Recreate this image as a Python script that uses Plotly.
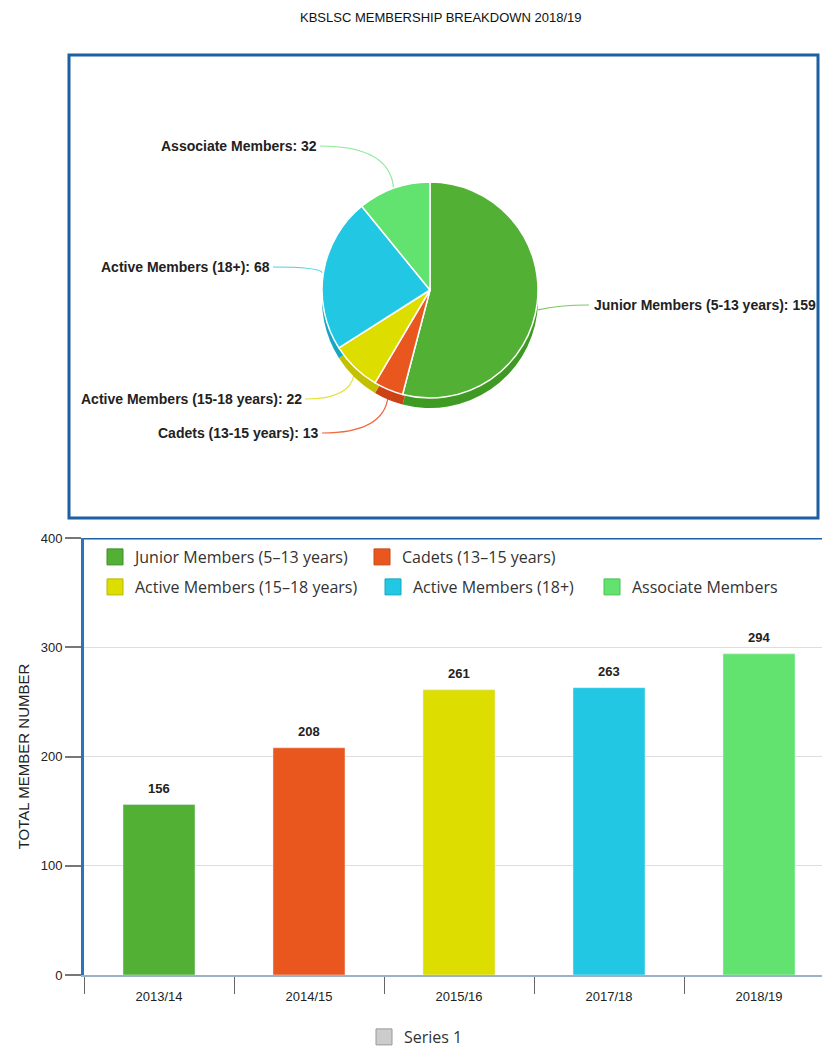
import math
import plotly.graph_objects as go

W, H = 822, 1050

# ---------------- data ----------------
title_text = "KBSLSC MEMBERSHIP BREAKDOWN 2018/19"
pie_labels = ["Junior Members (5-13 years)", "Cadets (13-15 years)",
              "Active Members (15-18 years)", "Active Members (18+)", "Associate Members"]
legend_labels = ["Junior Members (5\u201313 years)", "Cadets (13\u201315 years)",
                 "Active Members (15\u201318 years)", "Active Members (18+)", "Associate Members"]
pie_values = [159, 13, 22, 68, 32]

seasons = ["2013/14", "2014/15", "2015/16", "2017/18", "2018/19"]
totals = [156, 208, 261, 263, 294]
y_ticks = [0, 100, 200, 300, 400]
y_title = "TOTAL MEMBER NUMBER"
series_name = "Series 1"

# ---------------- styles ----------------
colors = ["#52b035", "#ea571e", "#dddd00", "#22c8e3", "#62e26e"]
dark_colors = ["#3f9a24", "#cc4214", "#c2c000", "#15a7c2", "#4cc95a"]
edge_colors = ["#3e8e28", "#c44a18", "#b8b800", "#1aa6bd", "#4fc05a"]
line_colors = ["#7cc863", "#ef6a3c", "#e4e43a", "#4fd0e6", "#8fe897"]
LBL_FONT = dict(family="Liberation Sans, Arial", size=14, color="#222222")
LEG_FONT = dict(family="Open Sans, sans-serif", size=16, color="#333333")


def px(x):
    return x / W


def py(y):
    return 1 - y / H


fig = go.Figure()

# ---------------- pie (top) ----------------
cx, cy, R, depth = 430, 290, 108, 10
fig.add_trace(go.Pie(
    labels=pie_labels, values=pie_values, sort=False, direction="clockwise", rotation=0,
    marker=dict(colors=dark_colors, line=dict(color="white", width=0)),
    textinfo="none", hoverinfo="skip", showlegend=False,
    domain=dict(x=[px(cx - R), px(cx + R)], y=[py(cy + depth + R), py(cy + depth - R)]),
))
fig.add_trace(go.Pie(
    labels=pie_labels, values=pie_values, sort=False, direction="clockwise", rotation=0,
    marker=dict(colors=colors, line=dict(color="white", width=1.5)),
    textinfo="none", showlegend=False,
    domain=dict(x=[px(cx - R), px(cx + R)], y=[py(cy + R), py(cy - R)]),
))

# label anchor positions (layout only): (x, y, side)
label_pos = [(589, 305, "left"), (322, 433, "right"), (305, 399, "right"),
             (273, 267, "right"), (320, 146, "right")]
total = sum(pie_values)
cum = 0
shapes = []
annotations = []
for i, v in enumerate(pie_values):
    mid = (cum + v / 2) / total * 2 * math.pi
    cum += v
    ex = cx + (R + 1) * math.sin(mid)
    ey = cy - (R + 1) * math.cos(mid) + (depth * 0.6 if math.cos(mid) < 0 else 0)
    lx, ly, side = label_pos[i]
    path = f"M {px(ex)},{py(ey)} Q {px(ex - 4 if side == 'right' else ex + 20)},{py(ly)} {px(lx)},{py(ly)}"
    shapes.append(dict(type="path", xref="paper", yref="paper", path=path,
                       line=dict(color=line_colors[i], width=1.2), layer="below"))
    annotations.append(dict(
        x=px(lx + (3 if side == "left" else -1)), y=py(ly), xref="paper", yref="paper",
        text=f"<b>{pie_labels[i]}: {v}</b>", showarrow=False,
        xanchor="left" if side == "left" else "right", yanchor="middle", font=LBL_FONT))

# pie frame
shapes.append(dict(type="rect", xref="paper", yref="paper",
                   x0=px(69), x1=px(818), y0=py(518), y1=py(55),
                   line=dict(color="#1d5fa3", width=3), layer="below"))

# title
annotations.append(dict(x=px(441), y=py(18), xref="paper", yref="paper", text=title_text,
                        showarrow=False, xanchor="center", yanchor="middle",
                        font=dict(family="Liberation Sans, Arial", size=13, color="#111111")))

# ---------------- bars (bottom) ----------------
fig.add_trace(go.Bar(
    x=seasons, y=totals, name=series_name, marker=dict(color=colors),
    width=0.48, showlegend=False,
))
for s, t in zip(seasons, totals):
    annotations.append(dict(x=s, y=t, xref="x", yref="y", text=f"<b>{t}</b>", showarrow=False,
                            xanchor="center", yanchor="bottom", yshift=7,
                            font=dict(family="Liberation Sans, Arial", size=13, color="#222222")))

# legend entries: each in its own legend so it can sit where the reference has it
legend_slots = [(95, 557), (362, 557), (95, 587), (373, 587), (592, 587)]
leg_common = dict(orientation="h", xanchor="left", yanchor="middle", bgcolor="rgba(0,0,0,0)",
                  font=LEG_FONT, itemclick=False, itemdoubleclick=False, tracegroupgap=0)
legend_layout = {}
for i, lab in enumerate(legend_labels):
    key = "legend" if i == 0 else f"legend{i + 1}"
    fig.add_trace(go.Scatter(
        x=[None], y=[None], mode="markers", name=lab,
        marker=dict(symbol="square", size=18, color=colors[i],
                    line=dict(color=edge_colors[i], width=1)),
        legend=key, showlegend=True,
    ))
    lx, ly = legend_slots[i]
    legend_layout[key] = dict(x=px(lx), y=py(ly), **leg_common)
fig.add_trace(go.Scatter(x=[None], y=[None], mode="markers", name=series_name,
                         marker=dict(symbol="square", size=18, color="#cccccc",
                                     line=dict(color="#9a9a9a", width=1)),
                         legend="legend6", showlegend=True))
legend_layout["legend6"] = dict(x=px(364), y=py(1037), **leg_common)

x0_px = 84
cat_w = 150
x_range = [-0.5, -0.5 + (W - x0_px) / cat_w]

shapes.append(dict(type="line", xref="paper", yref="y", x0=px(x0_px), x1=1, y0=400, y1=400,
                   line=dict(color="#1d5fa3", width=3)))

fig.update_layout(
    width=W, height=H, margin=dict(l=0, r=0, t=0, b=0, autoexpand=False),
    paper_bgcolor="white", plot_bgcolor="white",
    shapes=shapes, annotations=annotations,
    xaxis=dict(domain=[px(x0_px), 1], range=x_range, type="category",
               categoryorder="array", categoryarray=seasons, automargin=False,
               showline=True, linecolor="#9bb0c9", linewidth=2,
               ticks="outside", tickson="boundaries", ticklen=17, tickcolor="#666666", tickwidth=1,
               ticklabelstandoff=8,
               showgrid=False, tickfont=dict(family="Liberation Sans, Arial", size=13, color="#222222")),
    yaxis=dict(domain=[py(975), py(538)], range=[0, 400], tickvals=y_ticks, automargin=False,
               showline=True, linecolor="#2e73b8", linewidth=3,
               ticks="outside", ticklen=16, tickcolor="#777777", tickwidth=1.5,
               showgrid=True, gridcolor="#dedede", gridwidth=1, zeroline=False,
               tickfont=dict(family="Liberation Sans, Arial", size=13, color="#222222"),
               title=dict(text=y_title, standoff=8,
                          font=dict(family="Liberation Sans, Arial", size=15, color="#222222"))),
    **legend_layout,
)

post = ("document.documentElement.style.margin='0';"
        "document.body.style.margin='0';document.body.style.padding='0';"
        "document.body.style.overflow='hidden';"
        "var d=document.getElementById('{plot_id}');"
        "d.style.position='absolute';d.style.left='0px';d.style.top='0px';")
fig.write_html("out.html", post_script=post, config={"displayModeBar": False})
